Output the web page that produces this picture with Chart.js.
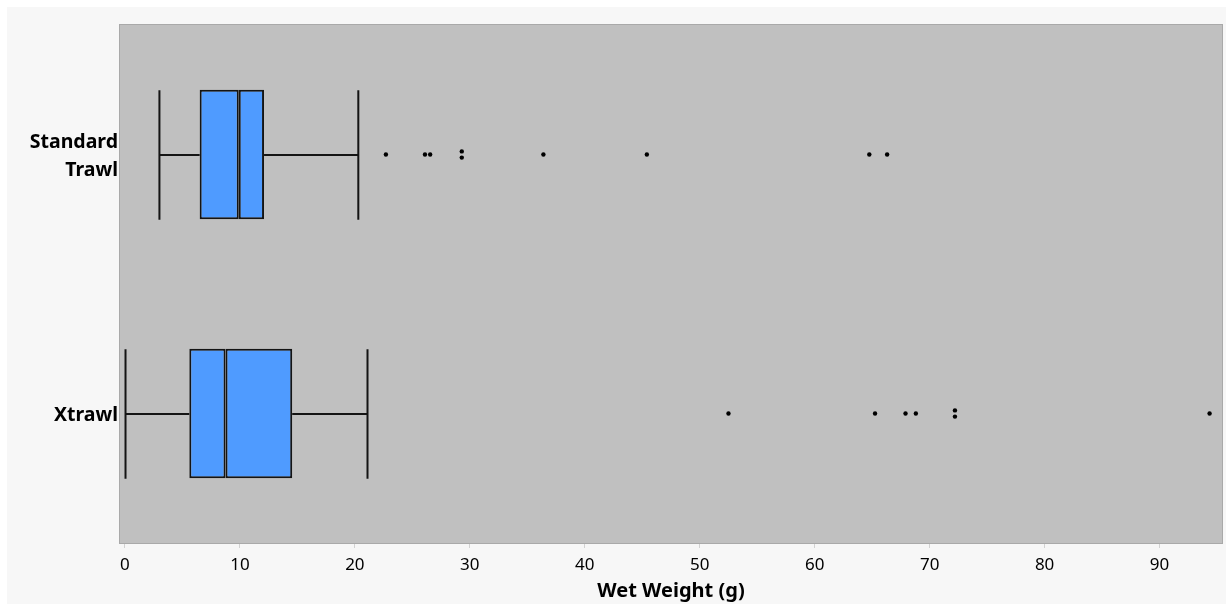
<!DOCTYPE html>
<html>
<head>
<meta charset="utf-8">
<title>Wet Weight by Trawl</title>
<script src="https://cdn.jsdelivr.net/npm/chart.js@4/dist/chart.umd.min.js"></script>
<style>
  html, body { margin: 0; padding: 0; background: #ffffff; }
  #wrap { position: absolute; left: 7px; top: 7px; width: 1219px; height: 597px; background: #f7f7f7; }
  canvas { display: block; }
</style>
</head>
<body>
<div id="wrap"><canvas id="pesoHumedo" width="1219" height="597"></canvas></div>
<script>
// Categorias (de arriba hacia abajo)
const trawls = [['Standard', 'Trawl'], ['Xtrawl']];

// Resumen de cajas: bigote inferior, Q1, mediana, Q3, bigote superior
const whiskerLow  = [3.0, 0.05];
const q1          = [6.5, 5.6];
const medians     = [9.9, 8.75];
const q3          = [12.1, 14.55];
const whiskerHigh = [20.3, 21.1];

// Valores atipicos por categoria
const outliersStandard = [22.7, 26.1, 26.55, 29.3, 29.3, 36.4, 45.4, 64.75, 66.3];
const outliersXtrawl   = [52.5, 65.25, 67.9, 68.8, 72.2, 72.2, 94.35];

const xTicks = [0, 10, 20, 30, 40, 50, 60, 70, 80, 90];

const boxFill = '#4f9bff';
const lineColor = '#141414';

// Puntos atipicos; los repetidos se apilan un poco arriba y abajo
function outlierPoints(values, row) {
    const counts = {};
    values.forEach(v => { counts[v] = (counts[v] || 0) + 1; });
    const seen = {};
    return values.map(v => {
        let dy = 0;
        if (counts[v] > 1) {
            seen[v] = (seen[v] || 0) + 1;
            dy = seen[v] === 1 ? -0.012 : 0.012;
        }
        return { x: v, y: row + dy };
    });
}

// Fondo gris y borde del area de trazado
const plotBackground = {
    id: 'plotBackground',
    beforeDraw(chart) {
        const { ctx, chartArea: a } = chart;
        ctx.save();
        ctx.fillStyle = '#c0c0c0';
        ctx.fillRect(a.left, a.top, a.right - a.left, a.bottom - a.top);
        ctx.restore();
    },
    afterDraw(chart) {
        const { ctx, chartArea: a } = chart;
        ctx.save();
        ctx.strokeStyle = '#a9a9a9';
        ctx.lineWidth = 1;
        ctx.strokeRect(a.left - 0.5, a.top - 0.5, a.right - a.left + 1, a.bottom - a.top + 1);
        ctx.restore();
    }
};

// Bigotes y sus topes, dibujados con las escalas del grafico
const boxWhiskers = {
    id: 'boxWhiskers',
    beforeDatasetsDraw(chart) {
        const { ctx, scales: { x, y } } = chart;
        const bars = chart.getDatasetMeta(0).data;
        ctx.save();
        ctx.strokeStyle = lineColor;
        ctx.lineWidth = 2;
        trawls.forEach((t, i) => {
            const cy = Math.round(y.getPixelForValue(i));
            const half = bars[i].height / 2;
            const lo = x.getPixelForValue(whiskerLow[i]);
            const hi = x.getPixelForValue(whiskerHigh[i]);
            ctx.beginPath();
            ctx.moveTo(lo, cy); ctx.lineTo(x.getPixelForValue(q1[i]), cy);
            ctx.moveTo(x.getPixelForValue(q3[i]), cy); ctx.lineTo(hi, cy);
            ctx.moveTo(lo, cy - half); ctx.lineTo(lo, cy + half);
            ctx.moveTo(hi, cy - half); ctx.lineTo(hi, cy + half);
            ctx.stroke();
        });
        ctx.restore();
    }
};

const ctx = document.getElementById('pesoHumedo').getContext('2d');
new Chart(ctx, {
    type: 'bar',
    data: {
        datasets: [
            {
                label: 'Q1 - mediana',
                data: q1.map((v, i) => ({ y: i, x: [v, medians[i]] })),
                backgroundColor: boxFill,
                borderColor: lineColor,
                borderWidth: 2,
                borderSkipped: false,
                grouped: false,
                categoryPercentage: 1,
                barPercentage: 0.5
            },
            {
                label: 'mediana - Q3',
                data: q3.map((v, i) => ({ y: i, x: [medians[i], v] })),
                backgroundColor: boxFill,
                borderColor: lineColor,
                borderWidth: 2,
                borderSkipped: false,
                grouped: false,
                categoryPercentage: 1,
                barPercentage: 0.5
            },
            {
                type: 'scatter',
                label: 'Atipicos',
                indexAxis: 'x',
                data: outlierPoints(outliersStandard, 0).concat(outlierPoints(outliersXtrawl, 1)),
                backgroundColor: '#000000',
                borderColor: '#000000',
                pointRadius: 2.2,
                pointBorderWidth: 0
            }
        ]
    },
    options: {
        indexAxis: 'y',
        responsive: false,
        animation: false,
        devicePixelRatio: 1,
        layout: { padding: { top: 18, right: 3, left: 0, bottom: 0 } },
        plugins: {
            legend: { display: false },
            tooltip: { enabled: false }
        },
        scales: {
            x: {
                type: 'linear',
                min: -0.43,
                max: 95.43,
                offset: false,
                afterBuildTicks: scale => { scale.ticks = xTicks.map(v => ({ value: v })); },
                afterFit: scale => { scale.height = 61; },
                grid: {
                    drawOnChartArea: false,
                    drawTicks: true,
                    tickLength: 5,
                    tickColor: '#d2d2d2'
                },
                border: { display: false },
                ticks: {
                    color: '#000000',
                    padding: 7,
                    maxRotation: 0,
                    font: { family: 'Noto Sans', size: 17 }
                },
                title: {
                    display: true,
                    text: 'Wet Weight (g)',
                    color: '#000000',
                    padding: { top: 1, bottom: 1 },
                    font: { family: 'Noto Sans', size: 20, weight: 'bold' }
                }
            },
            y: {
                type: 'linear',
                reverse: true,
                offset: false,
                min: -0.5,
                max: 1.5,
                afterBuildTicks: scale => { scale.ticks = trawls.map((t, i) => ({ value: i })); },
                afterFit: scale => { scale.width = 113; },
                grid: { display: false, drawTicks: false },
                border: { display: false },
                ticks: {
                    color: '#000000',
                    padding: 2,
                    labelOffset: 2,
                    font: { family: 'Noto Sans', size: 19.5, weight: 'bold', lineHeight: 1.4 },
                    callback: value => trawls[value]
                }
            }
        }
    },
    plugins: [plotBackground, boxWhiskers]
});
</script>
</body>
</html>
